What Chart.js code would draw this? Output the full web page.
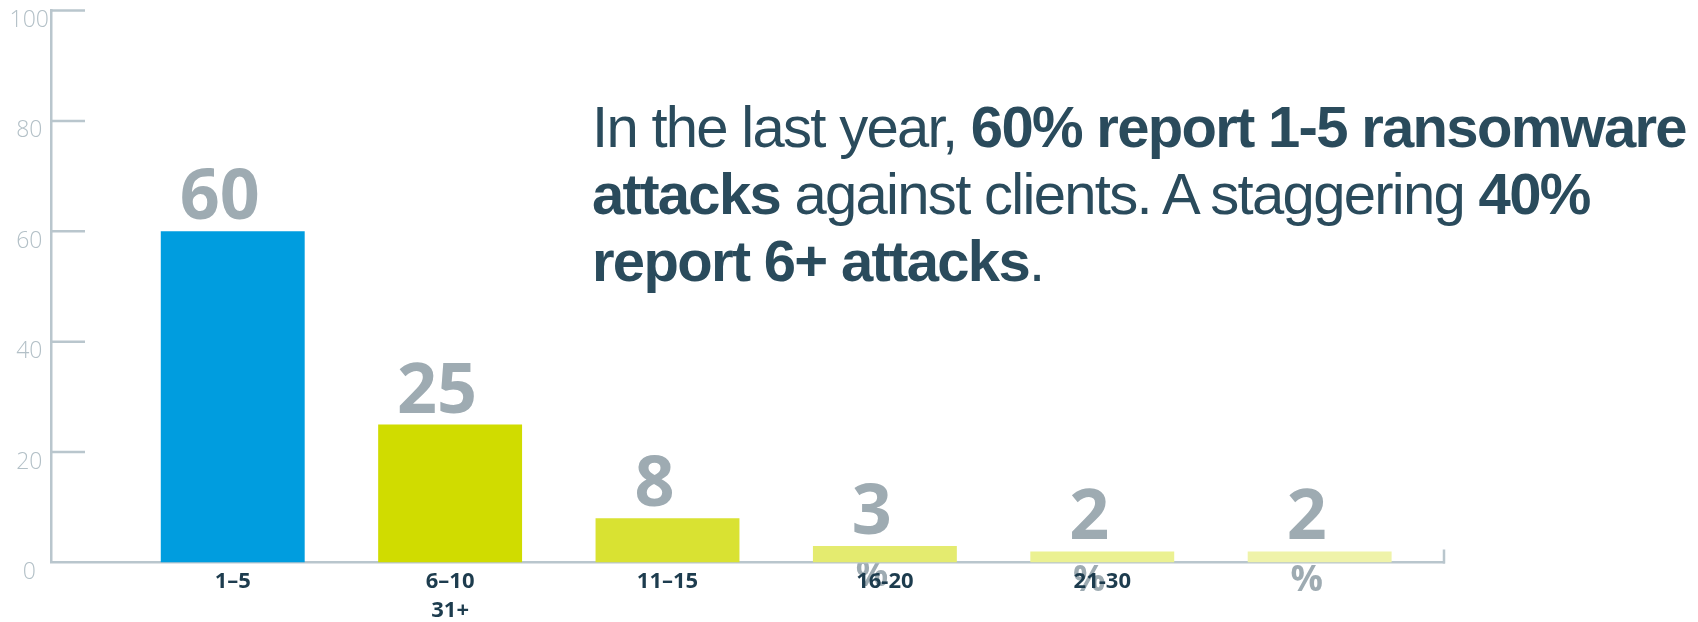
<!DOCTYPE html>
<html>
<head>
<meta charset="utf-8">
<script src="https://cdn.jsdelivr.net/npm/chart.js@4"></script>
<style>
  html, body { margin: 0; padding: 0; background: #fff; }
  #wrap { position: relative; width: 1698px; height: 622px; }
  #note {
    position: absolute; left: 592px; top: 93px;
    font-family: "Liberation Sans", Arial, sans-serif;
    font-size: 58px; line-height: 67px; letter-spacing: -1.7px;
    color: #2a4b5c; white-space: nowrap;
  }
</style>
</head>
<body>
<div id="wrap">
  <canvas id="myChart" width="1698" height="622"></canvas>
  <div id="note">In the last year, <b>60% report 1-5 ransomware</b><br><b>attacks</b> against clients. A staggering <b>40%</b><br><b>report 6+ attacks</b>.</div>
</div>
<script>
const categories = ['1–5', '6–10', '11–15', '16-20', '21-30', '31+'];
// tick text as it appears under the axis (the "31+" wrapped under 6–10)
const tickLabels = [['1–5'], ['6–10', '31+'], ['11–15'], ['16-20'], ['21-30'], ['']];
const shares = [60, 25, 8, 3, 2, 2];
const yTicks = [0, 20, 40, 60, 80, 100];
const barColors = ['#009ddf', '#d0dc00', '#d9e232', '#e4eb6f', '#ebf192', '#eff3aa'];

const axisColor = '#b9c6cd';

// big grey value labels, with a small "%" underneath; drawn under axes and bars
const valueLabels = {
  id: 'valueLabels',
  beforeDraw(chart) {
    const ctx = chart.ctx;
    const meta = chart.getDatasetMeta(0);
    ctx.save();
    ctx.fillStyle = '#9eabb2';
    ctx.textAlign = 'center';
    ctx.textBaseline = 'alphabetic';
    meta.data.forEach((bar, i) => {
      const x = bar.x - 13;
      const y = bar.y - 12;
      ctx.font = 'bold 70px "Open Sans"';
      ctx.fillText(String(shares[i]), x, y);
      ctx.font = 'bold 36px "Open Sans"';
      ctx.fillText('%', x, y + 52);
    });
    ctx.restore();
  }
};

// short tick marks inside the plot and the end cap on the x axis
const axisMarks = {
  id: 'axisMarks',
  afterDatasetsDraw(chart) {
    const ctx = chart.ctx;
    const ys = chart.scales.y, xs = chart.scales.x;
    ctx.save();
    ctx.strokeStyle = axisColor;
    ctx.lineWidth = 2.5;
    ctx.beginPath();
    yTicks.forEach(v => {
      if (v === 0) return;
      const py = ys.getPixelForValue(v);
      ctx.moveTo(ys.right, py);
      ctx.lineTo(ys.right + 34, py);
    });
    ctx.moveTo(xs.right, ys.bottom - 13);
    ctx.lineTo(xs.right, ys.bottom + 1);
    ctx.stroke();
    ctx.restore();
  }
};

const data = {
  datasets: [{
    data: shares.map((v, i) => ({ x: i, y: v })),
    backgroundColor: barColors,
    borderWidth: 0,
    barPercentage: 0.662,
    categoryPercentage: 1
  }]
};

const config = {
  type: 'bar',
  data: data,
  options: {
    responsive: false,
    animation: false,
    devicePixelRatio: 1,
    layout: { padding: { top: 10.5, right: 254, left: 0, bottom: 0 } },
    plugins: {
      legend: { display: false },
      tooltip: { enabled: false }
    },
    scales: {
      x: {
        type: 'linear',
        offset: false,
        min: -0.836,
        max: 5.572,
        afterBuildTicks: s => { s.ticks = categories.map((c, i) => ({ value: i })); },
        afterFit: s => { s.height = 59.5; s.paddingLeft = 0; s.paddingRight = 0; },
        grid: { display: false, drawTicks: false, offset: false },
        border: { color: axisColor, width: 2.5 },
        ticks: {
          autoSkip: false,
          maxRotation: 0,
          padding: 4,
          color: '#1d3c4e',
          font: { family: 'Open Sans', weight: 'bold', size: 22, lineHeight: 1.35 },
          callback: v => tickLabels[v]
        }
      },
      y: {
        min: 0,
        max: 100,
        afterBuildTicks: s => { s.ticks = yTicks.map(v => ({ value: v })); },
        afterFit: s => { s.width = 51; s.paddingTop = 0; s.paddingBottom = 0; },
        grid: { display: false, drawTicks: false },
        border: { color: axisColor, width: 2.5 },
        ticks: {
          crossAlign: 'center',
          padding: 2,
          labelOffset: 10,
          color: '#b3c0c7',
          font: { family: 'Open Sans', weight: '300', size: 23 }
        }
      }
    }
  },
  plugins: [valueLabels, axisMarks]
};

const myChart = new Chart(document.getElementById('myChart'), config);
</script>
</body>
</html>
